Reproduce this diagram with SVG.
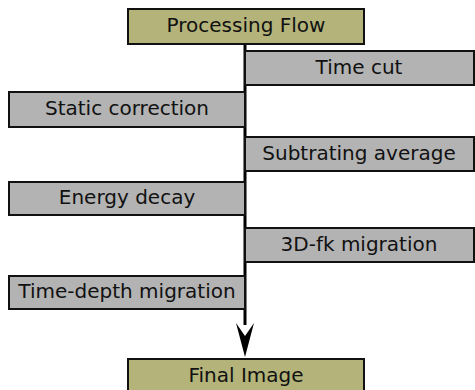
<svg xmlns="http://www.w3.org/2000/svg" width="475" height="390" viewBox="0 0 475 390">
  <style>
    .box { stroke: #111; stroke-width: 2; }
    .term { fill: #b3b37a; }
    .step { fill: #b3b3b3; }
    .label { font-family: "DejaVu Sans", Verdana, sans-serif; font-size: 20px; fill: #111; text-anchor: middle; }
    .flow { stroke: #000; stroke-width: 3; fill: none; }
    .head { fill: #000; }
  </style>

  <!-- main flow line with its notched arrowhead -->
  <g id="connectors">
    <line class="flow" x1="245" y1="44" x2="245" y2="325"/>
    <path class="head" d="M245 357 L236 323 L245 336 L254 323 Z"/>
  </g>

  <g id="processing-flow">
    <rect class="box term" x="128" y="9" width="236" height="35"/>
    <text class="label" x="246" y="32">Processing Flow</text>
  </g>
  <g id="time-cut">
    <rect class="box step" x="245" y="51" width="229" height="34"/>
    <text class="label" x="359" y="74">Time cut</text>
  </g>
  <g id="static-correction">
    <rect class="box step" x="9" y="92" width="236" height="35"/>
    <text class="label" x="127" y="115">Static correction</text>
  </g>
  <g id="subtracting-average">
    <rect class="box step" x="245" y="137" width="229" height="34"/>
    <text class="label" x="359" y="160">Subtrating average</text>
  </g>
  <g id="energy-decay">
    <rect class="box step" x="9" y="182" width="236" height="33"/>
    <text class="label" x="127" y="204">Energy decay</text>
  </g>
  <g id="fk-migration">
    <rect class="box step" x="245" y="228" width="229" height="34"/>
    <text class="label" x="359" y="251">3D-fk migration</text>
  </g>
  <g id="time-depth-migration">
    <rect class="box step" x="9" y="276" width="236" height="33"/>
    <text class="label" x="127" y="298">Time-depth migration</text>
  </g>
  <g id="final-image">
    <rect class="box term" x="128" y="359" width="236" height="35"/>
    <text class="label" x="246" y="382">Final Image</text>
  </g>
</svg>
